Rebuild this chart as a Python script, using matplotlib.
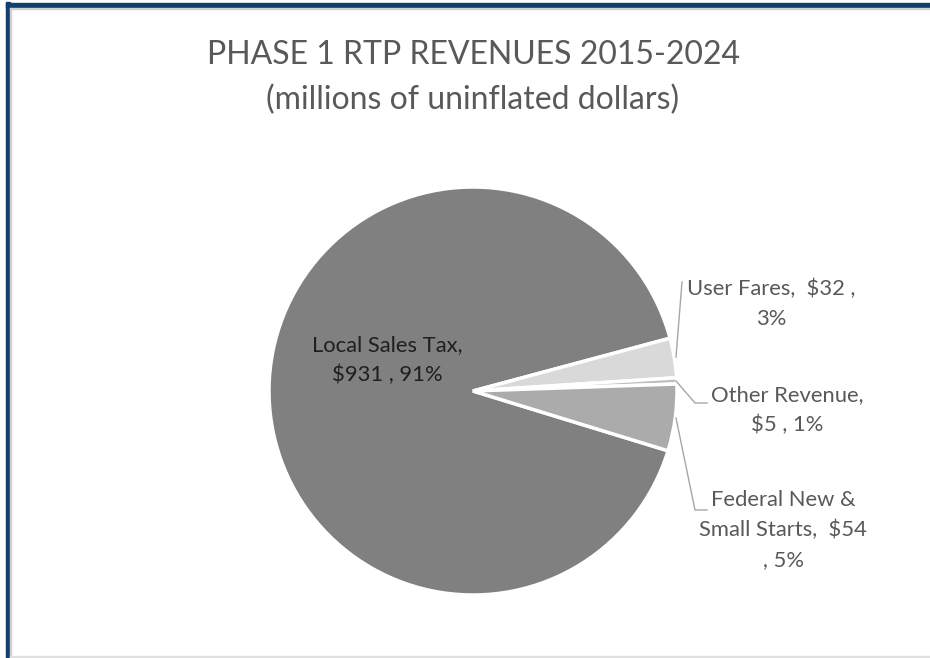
import matplotlib
matplotlib.use("Agg")
import matplotlib.pyplot as plt
from matplotlib.patches import Rectangle

# Revenue sources (millions of uninflated dollars)
sources = ["Local Sales Tax", "User Fares", "Other Revenue", "Federal New & Small Starts"]
amounts = [931, 32, 5, 54]
percents = [91, 3, 1, 5]
colors = ["#808080", "#d9d9d9", "#bfbfbf", "#ababab"]

title_line1 = "PHASE 1 RTP REVENUES 2015-2024"
title_line2 = "(millions of uninflated dollars)"

W, H = 930, 658
fig = plt.figure(figsize=(W / 100, H / 100), dpi=100)
fig.patch.set_facecolor("white")
ax = fig.add_axes([0, 0, 1, 1])

FONT = ["Lato", "DejaVu Sans"]

def Y(y_top):
    return H - y_top

# chart frame
fig.patches.append(Rectangle((6 / W, 0), 4 / W, 1 - 2 / H, transform=fig.transFigure,
                             color="#123e70", zorder=0))
fig.patches.append(Rectangle((6 / W, 1 - 7.5 / H), 1, 4.5 / H, transform=fig.transFigure,
                             color="#123e70", zorder=0))
fig.patches.append(Rectangle((10 / W, 0), 1.2 / W, 1 - 7.5 / H, transform=fig.transFigure,
                             color="#d0d0d0", zorder=0))
fig.patches.append(Rectangle((10 / W, 1 - 8.7 / H), 1, 1.2 / H, transform=fig.transFigure,
                             color="#d0d0d0", zorder=0))
fig.patches.append(Rectangle((10 / W, 1 / H), 1, 1.3 / H, transform=fig.transFigure,
                             color="#e0e0e0", zorder=0))

cx, cy, r = 473, Y(391), 204
wedges, _ = ax.pie(amounts, colors=colors, startangle=-17.05, counterclock=False,
                   center=(cx, cy), radius=r, frame=True,
                   wedgeprops=dict(edgecolor="white", linewidth=2.5))
ax.set_xlim(0, W)
ax.set_ylim(0, H)
ax.set_aspect("equal")
ax.axis("off")

ax.text(W / 2 + 8, Y(55), title_line1, ha="center", va="center", fontsize=23,
        color="#595959", family=FONT)
ax.text(W / 2 + 8, Y(100), title_line2, ha="center", va="center", fontsize=23,
        color="#595959", family=FONT)

# data labels
lab = [
    f"{sources[0]},\n${amounts[0]} , {percents[0]}%",
    f"{sources[1]},  ${amounts[1]} ,\n{percents[1]}%",
    f"{sources[2]},\n${amounts[2]} , {percents[2]}%",
    f"Federal New &\nSmall Starts,  ${amounts[3]}\n, {percents[3]}%",
]
LS = 1.6
ax.text(387, Y(360), lab[0], ha="center", va="center", fontsize=15.8,
        color="#1f1f1f", family=FONT, linespacing=LS)
ax.text(771, Y(304), lab[1], ha="center", va="center", fontsize=15.8,
        color="#595959", family=FONT, linespacing=LS)
ax.text(787, Y(410), lab[2], ha="center", va="center", fontsize=15.8,
        color="#595959", family=FONT, linespacing=LS)
ax.text(783, Y(530), lab[3], ha="center", va="center", fontsize=15.8,
        color="#595959", family=FONT, linespacing=LS)

# leader lines
lc = dict(color="#a6a6a6", linewidth=1.0)
ax.plot([676, 682], [Y(357), Y(282)], **lc)
ax.plot([676, 695, 707], [Y(381), Y(403), Y(403)], **lc)
ax.plot([676, 695, 707], [Y(418), Y(510), Y(510)], **lc)

fig.savefig("out.png", dpi=100, facecolor="white")
